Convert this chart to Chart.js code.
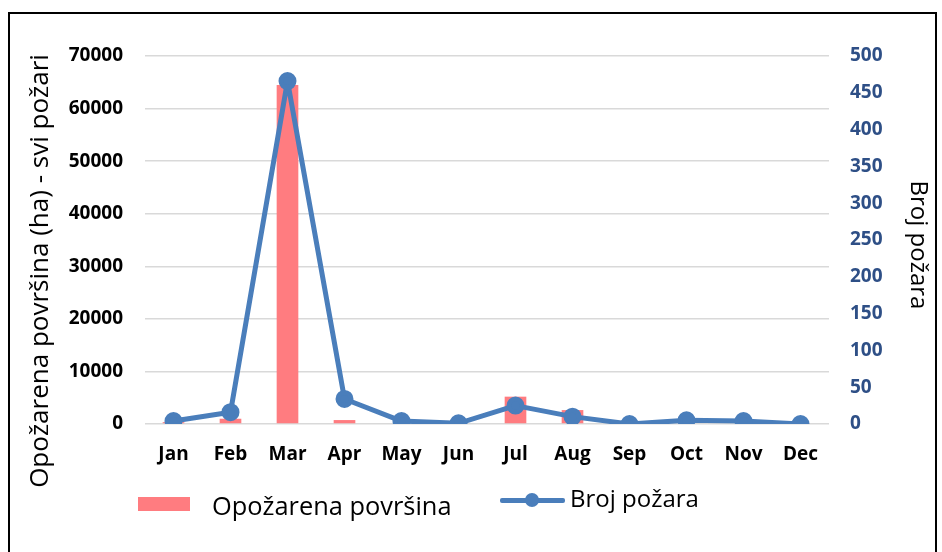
<!DOCTYPE html>
<html>
<head>
<meta charset="utf-8">
<script src="https://cdn.jsdelivr.net/npm/chart.js@4/dist/chart.umd.min.js"></script>
<style>
    html, body { margin: 0; padding: 0; background: #fff; }
    #wrap { position: relative; width: 942px; height: 552px; overflow: hidden; }
    #frame { position: absolute; left: 8px; top: 12px; width: 929px; height: 560px; border: 2px solid #000; box-sizing: border-box; }
    canvas { position: absolute; left: 0; top: 0; }
    .txt { position: absolute; font-family: 'Open Sans', sans-serif; font-size: 24px; line-height: 32px; color: #000; white-space: nowrap; }
    .rot { transform-origin: center center; text-align: center; width: 500px; }
</style>
</head>
<body>
<div id="wrap">
    <div id="frame"></div>
    <canvas id="pozariChart" width="942" height="552"></canvas>
    <div class="txt rot" style="left:-212px;top:255px;font-size:26px;transform:rotate(-90deg)">Opožarena površina (ha) - svi požari</div>
    <div class="txt rot" style="left:670px;top:229px;transform:rotate(90deg)">Broj požara</div>
    <div style="position:absolute;left:138px;top:497px;width:52px;height:14px;background:#FF7C80"></div>
    <div class="txt" style="left:212px;top:489px;font-size:25.4px">Opožarena površina</div>
    <div style="position:absolute;left:500px;top:498px;width:65px;height:5px;background:#4A7EBB;border-radius:2px"></div>
    <div style="position:absolute;left:525px;top:493px;width:14px;height:14px;background:#4A7EBB;border-radius:50%"></div>
    <div class="txt" style="left:570px;top:482px">Broj požara</div>
</div>
<script>
const months = ['Jan', 'Feb', 'Mar', 'Apr', 'May', 'Jun', 'Jul', 'Aug', 'Sep', 'Oct', 'Nov', 'Dec']
const povrsina = [350, 1000, 64500, 750, 0, 0, 5200, 2650, 0, 0, 0, 0]
const brojPozara = [4, 16, 466, 34, 4, 1, 25, 10, 0, 5, 4, 0]

const leftTicks = [0, 10000, 20000, 30000, 40000, 50000, 60000, 70000]
const rightTicks = [0, 50, 100, 150, 200, 250, 300, 350, 400, 450, 500]

const tickFont = { family: "'Open Sans', sans-serif", size: 19, weight: 'bold' }

new Chart(document.getElementById('pozariChart'), {
    type: 'bar',

    data: {
        labels: months,

        datasets: [
            {
                type: 'line',
                label: 'Broj požara',
                data: brojPozara,
                yAxisID: 'y1',
                borderColor: '#4A7EBB',
                backgroundColor: '#4A7EBB',
                borderWidth: 5,
                borderJoinStyle: 'round',
                borderCapStyle: 'round',
                pointRadius: 6.5,
                pointHoverRadius: 6.5,
                tension: 0,
                order: 0
            },
            {
                label: 'Opožarena površina',
                data: povrsina,
                yAxisID: 'y',
                backgroundColor: '#FF7C80',
                barPercentage: 0.38,
                categoryPercentage: 1,
                order: 1
            }
        ]
    },

    options: {
        responsive: false,
        animation: false,
        devicePixelRatio: 1,

        layout: {
            padding: { left: 10, right: 0, top: 56, bottom: 0 }
        },

        plugins: {
            legend: { display: false },
            tooltip: { enabled: false }
        },

        scales: {
            x: {
                grid: { display: false, drawTicks: false },
                border: { display: false },
                ticks: { color: '#000', font: tickFont, padding: 19, maxRotation: 0 },
                afterFit: s => { s.height = 128 }
            },
            y: {
                position: 'left',
                min: 0,
                max: 70000,
                afterBuildTicks: s => { s.ticks = leftTicks.map(v => ({ value: v })) },
                grid: { color: '#D9D9D9', lineWidth: 1.5, drawTicks: false },
                border: { display: false },
                ticks: { color: '#000', font: tickFont, padding: 22, callback: v => String(v) },
                afterFit: s => { s.width = 135 }
            },
            y1: {
                position: 'right',
                min: 0,
                max: 500,
                afterBuildTicks: s => { s.ticks = rightTicks.map(v => ({ value: v })) },
                grid: { display: false, drawTicks: false },
                border: { display: false },
                ticks: { color: '#2E4F86', font: tickFont, padding: 21, callback: v => String(v) },
                afterFit: s => { s.width = 113 }
            }
        }
    }
})
</script>
</body>
</html>
